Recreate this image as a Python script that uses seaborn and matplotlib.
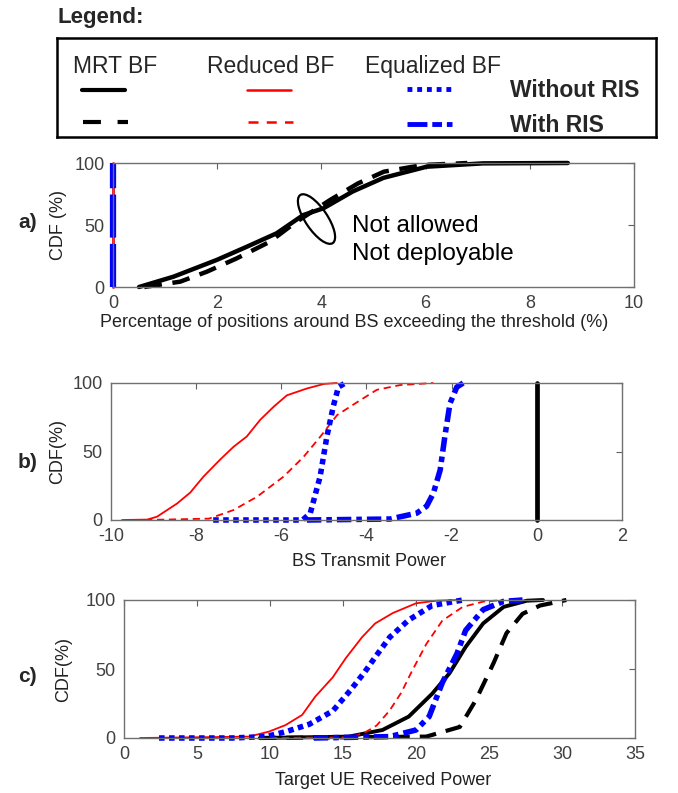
import matplotlib
matplotlib.use("Agg")
import matplotlib.pyplot as plt
from matplotlib.patches import Ellipse
from matplotlib.transforms import ScaledTranslation
import seaborn as sns

# ---- data ----
# a) percentage of positions exceeding the threshold
mrt_a_x = [0.5, 1.16, 1.99, 2.57, 3.14, 3.65, 4.04, 4.6, 5.19, 6.02, 7.1, 8.73]
mrt_a_y = [0, 8.3, 21.8, 32.5, 43.3, 58, 63.5, 77, 88, 97, 99.7, 100]
mrt_ris_a_x = [0.6, 1.29, 1.8, 2.37, 3.01, 3.5, 4.16, 4.7, 5.2, 5.95, 6.66, 6.8]
mrt_ris_a_y = [0, 4.3, 12.3, 23, 36.5, 52, 70, 83.5, 93, 98.4, 99.7, 100]
zero_x = [0, 0]
zero_y = [0, 100]

# b) BS transmit power
red_b_x = [-9.74, -9.15, -8.92, -8.45, -8.14, -7.83, -7.44, -7.12, -6.81, -6.5, -6.18, -5.87, -5.4, -5.0, -4.7]
red_b_y = [0, 0.3, 2.4, 12, 20, 31.6, 44, 53.5, 61, 73, 82.7, 91, 96, 99.3, 100]
red_ris_b_x = [-9.2, -7.7, -7.12, -6.57, -5.95, -5.48, -5.08, -4.69, -4.22, -3.76, -3.21, -2.43]
red_ris_b_y = [0, 1, 7.3, 17, 31.6, 46, 61, 76.6, 86, 95, 98.5, 100]
eq_b_x = [-7.6, -5.5, -5.32, -5.09, -4.93, -4.78, -4.66, -4.5]
eq_b_y = [0, 0, 5, 31.6, 61, 83, 97, 100]
eq_ris_b_x = [-5.4, -3.45, -2.82, -2.59, -2.43, -2.27, -2.16, -2.04, -1.88, -1.73]
eq_ris_b_y = [0, 0.7, 5, 10, 19.5, 36.5, 61, 85, 97, 100]

# c) target UE received power
red_c_x = [1.1, 8.55, 9.92, 11.07, 12.2, 13.1, 14.3, 15.2, 16.3, 17.2, 18.4, 20.0, 21.4, 22.9]
red_c_y = [0, 1, 4.6, 9.4, 16.7, 30, 44, 58, 73, 83, 90.5, 97.6, 99.5, 100]
eq_c_x = [2.4, 7.4, 9.7, 11.1, 12.7, 14.3, 15.5, 16.5, 17.3, 18.2, 19.5, 21.1, 23.2]
eq_c_y = [0, 0, 1, 4.6, 10, 19.6, 34.5, 48, 60, 73, 85.5, 96, 100]
red_ris_c_x = [10.0, 15.5, 16.5, 17.3, 18.2, 19.0, 19.7, 20.7, 21.8, 23.2, 24.6, 26.0]
red_ris_c_y = [0, 0.5, 4, 9, 20, 33, 48, 68, 85, 95, 98.8, 100]
mrt_c_x = [9.3, 15.4, 17.7, 19.5, 21.1, 22.3, 23.4, 24.6, 26.0, 27.6, 28.7]
mrt_c_y = [0, 1, 5.8, 15.5, 32, 47, 66, 83, 95, 99.5, 100]
eq_ris_c_x = [13.0, 18.2, 20.0, 20.9, 21.8, 22.8, 23.4, 24.6, 26.0, 27.3]
eq_ris_c_y = [0, 1, 5.8, 15.5, 40, 61, 78, 93, 99, 100]
mrt_ris_c_x = [9.3, 20.7, 23.0, 24.1, 25.3, 26.2, 27.3, 28.5, 30.3]
mrt_ris_c_y = [0, 1, 8, 27.5, 54, 76, 90, 96, 100]

# ---- styles ----
MRT = dict(color="black", lw=2.8, linestyle="-")
MRT_RIS = dict(color="black", lw=3.0, linestyle=(0, (4.0, 2.4)))
RED = dict(color="red", lw=1.3, linestyle="-")
RED_RIS = dict(color="red", lw=1.3, linestyle=(0, (4.0, 2.6)))
EQ = dict(color="blue", lw=4.0, linestyle=(0, (1.0, 0.8)))
EQ_RIS = dict(color="blue", lw=4.0, linestyle=(0, (2.6, 0.9, 1.0, 0.9)))

sns.set_theme(style="white")
plt.rcParams["font.family"] = ["Liberation Sans", "DejaVu Sans"]
plt.rcParams["axes.unicode_minus"] = False

fig = plt.figure(figsize=(6.78, 7.93), dpi=100)
W, H = 678.0, 793.0


def add_ax(left, right, top, bottom):
    return fig.add_axes([left / W, 1 - bottom / H, (right - left) / W, (bottom - top) / H])


def draw(ax, x, y, style):
    sns.lineplot(x=x, y=y, ax=ax, estimator=None, sort=False, clip_on=False, **style)


def style_axes(ax, xlim, xticks, xlabel, ylabel, xlab_pos, ylab_x):
    ax.set_xlim(*xlim)
    ax.set_ylim(0, 100)
    ax.set_xticks(xticks)
    ax.set_yticks([0, 50, 100])
    ax.tick_params(direction="in", top=True, right=True, length=4, width=0.8,
                   color="#606060", labelsize=13, labelcolor="#404040")
    ax.tick_params(axis="x", pad=6)
    ax.tick_params(axis="y", pad=6)
    for s in ax.spines.values():
        s.set_visible(True)
        s.set_color("#707070")
        s.set_linewidth(1.0)
    ax.set_xlabel(xlabel, fontsize=13, color="#222222")
    ax.set_ylabel(ylabel, fontsize=13, color="#222222")
    ax.xaxis.set_label_coords(*xlab_pos)
    ax.yaxis.set_label_coords(ylab_x, 0.5)
    ax.grid(False)


# ---- panel a ----
ax_a = add_ax(113, 634, 163, 287)
draw(ax_a, zero_x, zero_y, dict(color="red", lw=2.0, linestyle="-"))
draw(ax_a, zero_x, zero_y, dict(color="blue", lw=4.5, linestyle=(0, (6.9, 1.0))))
draw(ax_a, mrt_a_x, mrt_a_y, dict(MRT, lw=3.2))
draw(ax_a, mrt_ris_a_x, mrt_ris_a_y, dict(MRT_RIS, lw=3.2))
style_axes(ax_a, (0, 10), range(0, 11, 2),
           "Percentage of positions around BS exceeding the threshold (%)", "CDF (%)",
           (0.463, -0.22), -0.088)
ell = Ellipse((0, 0), width=0.58, height=0.22, angle=-56, fill=False, ec="black", lw=1.6,
              transform=fig.dpi_scale_trans + ScaledTranslation(3.906, 54.8, ax_a.transData),
              clip_on=False)
ax_a.add_patch(ell)
ax_a.text(4.59, 44.4, "Not allowed", fontsize=17.5, va="baseline", ha="left", color="black")
ax_a.text(4.59, 21.8, "Not deployable", fontsize=17.5, va="baseline", ha="left", color="black")

# ---- panel b ----
ax_b = add_ax(111, 622, 383, 520)
draw(ax_b, zero_x, zero_y, dict(MRT, lw=3.4))
draw(ax_b, red_b_x, red_b_y, RED)
draw(ax_b, red_ris_b_x, red_ris_b_y, RED_RIS)
draw(ax_b, eq_b_x, eq_b_y, EQ)
draw(ax_b, eq_ris_b_x, eq_ris_b_y, EQ_RIS)
style_axes(ax_b, (-10, 2), range(-10, 3, 2), "BS Transmit Power", "CDF(%)",
           (0.505, -0.24), -0.088)

# ---- panel c ----
ax_c = add_ax(124, 635, 600, 738)
draw(ax_c, mrt_c_x, mrt_c_y, MRT)
draw(ax_c, mrt_ris_c_x, mrt_ris_c_y, MRT_RIS)
draw(ax_c, red_c_x, red_c_y, RED)
draw(ax_c, red_ris_c_x, red_ris_c_y, RED_RIS)
draw(ax_c, eq_c_x, eq_c_y, EQ)
draw(ax_c, eq_ris_c_x, eq_ris_c_y, EQ_RIS)
style_axes(ax_c, (0, 35), range(0, 36, 5), "Target UE Received Power", "CDF(%)",
           (0.508, -0.246), -0.102)

# panel letters
for lab, base in [("a)", 228), ("b)", 468), ("c)", 682)]:
    fig.text(18 / W, 1 - base / H, lab, fontsize=15, fontweight="bold", va="baseline")

# ---- legend block ----
fig.text(57 / W, 1 - 23.3 / H, "Legend:", fontsize=16, fontweight="bold", va="baseline")
lax = add_ax(56.7, 656, 38, 137)
lax.set_xlim(56.7, 656)
lax.set_ylim(137, 38)
lax.set_xticks([])
lax.set_yticks([])
lax.set_facecolor("white")
for s in lax.spines.values():
    s.set_visible(True)
    s.set_color("black")
    s.set_linewidth(1.8)
for txt, x in [("MRT BF", 73), ("Reduced BF", 206.7), ("Equalized BF", 365)]:
    lax.text(x, 73, txt, fontsize=16.5, va="baseline", ha="left")
lax.text(510, 97, "Without RIS", fontsize=16.5, fontweight="bold", va="baseline")
lax.text(510, 132, "With RIS", fontsize=16.5, fontweight="bold", va="baseline")
lax.plot([82, 125], [90, 90], **dict(MRT, lw=3.0))
lax.plot([83, 128], [122, 122], color="black", lw=3.0, linestyle=(0, (4.3, 4.0)))
lax.plot([247, 291], [90, 90], **dict(RED, lw=1.8))
lax.plot([248, 293], [122, 122], color="red", lw=1.8, linestyle=(0, (4.0, 3.3)))
lax.plot([407, 452], [89, 89], color="blue", lw=3.5, linestyle=(0, (1.0, 1.0)))
lax.plot([407, 452], [124, 124], color="blue", lw=3.5, linestyle=(0, (4.1, 1.0, 2.0, 1.0)))

fig.savefig("out.png", dpi=100)
